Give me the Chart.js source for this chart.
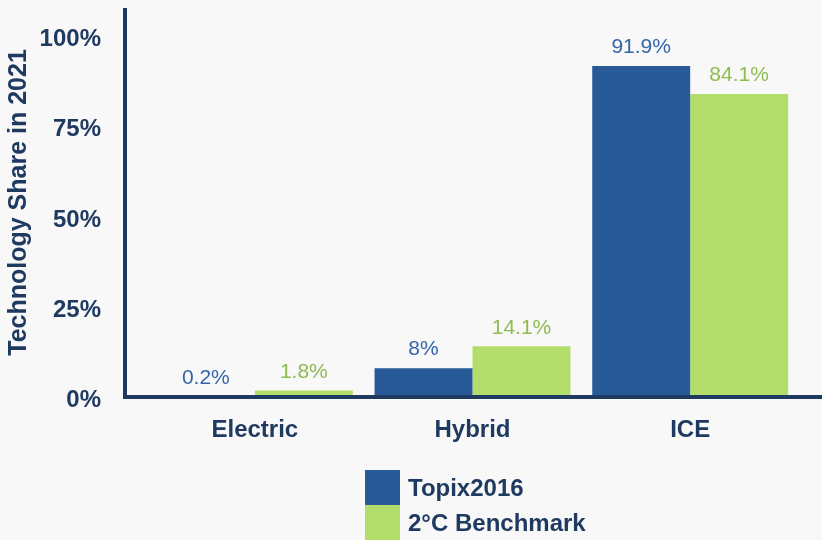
<!DOCTYPE html>
<html>
<head>
<meta charset="utf-8">
<script src="https://cdn.jsdelivr.net/npm/chart.js@4/dist/chart.umd.min.js"></script>
<style>
  html, body { margin: 0; padding: 0; background: #f8f8f8; }
  #wrap { position: relative; width: 822px; height: 540px; }
  #legend { position: absolute; left: 365px; top: 470px; font-family: "Liberation Sans", Arial, sans-serif; }
  .row { display: flex; align-items: center; height: 35px; }
  .box { width: 35px; height: 35px; margin-right: 8px; }
  .lbl { font-weight: bold; font-size: 24px; color: #1f3a60; }
</style>
</head>
<body>
<div id="wrap">
  <canvas id="myBarChart" width="822" height="540"></canvas>
  <div id="legend"></div>
</div>
<script>
const categories = ['Electric', 'Hybrid', 'ICE'];
const topixValues = [0.2, 8, 91.9];
const benchmarkValues = [1.8, 14.1, 84.1];
const yTickValues = [0, 25, 50, 75, 100];
const seriesNames = ['Topix2016', '2°C Benchmark'];
const barColors = ['#285a98', '#b3dd6b'];
const labelColors = ['#3566a8', '#8fbb50'];
const navy = '#1f3a60';

// value labels above each bar
const barLabels = {
    id: 'barLabels',
    afterDatasetsDraw(chart) {
        const ctx = chart.ctx;
        ctx.save();
        ctx.font = '21px "Liberation Sans", Arial, sans-serif';
        ctx.textAlign = 'center';
        ctx.textBaseline = 'bottom';
        chart.data.datasets.forEach((ds, i) => {
            chart.getDatasetMeta(i).data.forEach((bar, j) => {
                ctx.fillStyle = labelColors[i];
                ctx.fillText(ds.data[j] + '%', bar.x, bar.y - 8);
            });
        });
        ctx.restore();
    }
};

// thick axis lines
const axisLines = {
    id: 'axisLines',
    afterDraw(chart) {
        const ctx = chart.ctx;
        const area = chart.chartArea;
        const y0 = chart.scales.y.getPixelForValue(0);
        const x0 = area.left - 21;
        ctx.save();
        ctx.strokeStyle = navy;
        ctx.lineWidth = 4;
        ctx.beginPath();
        ctx.moveTo(x0, area.top);
        ctx.lineTo(x0, y0 + 2);
        ctx.moveTo(x0 - 2, y0);
        ctx.lineTo(chart.width, y0);
        ctx.stroke();
        ctx.restore();
    }
};

const ctx2 = document.getElementById('myBarChart').getContext('2d');
const myBarChart = new Chart(ctx2, {
    type: 'bar',
    data: {
        labels: categories,
        datasets: [
            {
                label: seriesNames[0],
                data: topixValues,
                backgroundColor: barColors[0],
            },
            {
                label: seriesNames[1],
                data: benchmarkValues,
                backgroundColor: barColors[1],
            }
        ]
    },
    options: {
        responsive: false,
        animation: false,
        layout: { padding: { top: 8, right: 23, left: 0, bottom: 0 } },
        datasets: { bar: { barPercentage: 1, categoryPercentage: 0.9 } },
        plugins: {
            legend: { display: false },
            tooltip: { enabled: false }
        },
        scales: {
            x: {
                grid: { display: false, drawTicks: false },
                border: { display: false },
                ticks: {
                    color: navy,
                    padding: 19,
                    font: { family: '"Liberation Sans", Arial, sans-serif', size: 24, weight: 'bold' }
                },
                afterFit(scale) { scale.height = 143; }
            },
            y: {
                min: 0,
                max: 108,
                grid: { display: false, drawTicks: true, tickLength: 45 },
                border: { display: false },
                afterBuildTicks(scale) { scale.ticks = yTickValues.map(v => ({ value: v })); },
                ticks: {
                    color: navy,
                    padding: 0,
                    labelOffset: 3,
                    callback: v => v + '%',
                    font: { family: '"Liberation Sans", Arial, sans-serif', size: 24, weight: 'bold', lineHeight: 0.5 }
                },
                title: {
                    display: true,
                    text: 'Technology Share in 2021',
                    color: navy,
                    font: { family: '"Liberation Sans", Arial, sans-serif', size: 25, weight: 'bold' }
                },
                afterFit(scale) { scale.width = 146; }
            }
        }
    },
    plugins: [barLabels, axisLines]
});

const legend = document.getElementById('legend');
seriesNames.forEach((name, i) => {
    const row = document.createElement('div');
    row.className = 'row';
    row.innerHTML = '<div class="box" style="background:' + barColors[i] + '"></div><span class="lbl">' + name + '</span>';
    legend.appendChild(row);
});
</script>
</body>
</html>
